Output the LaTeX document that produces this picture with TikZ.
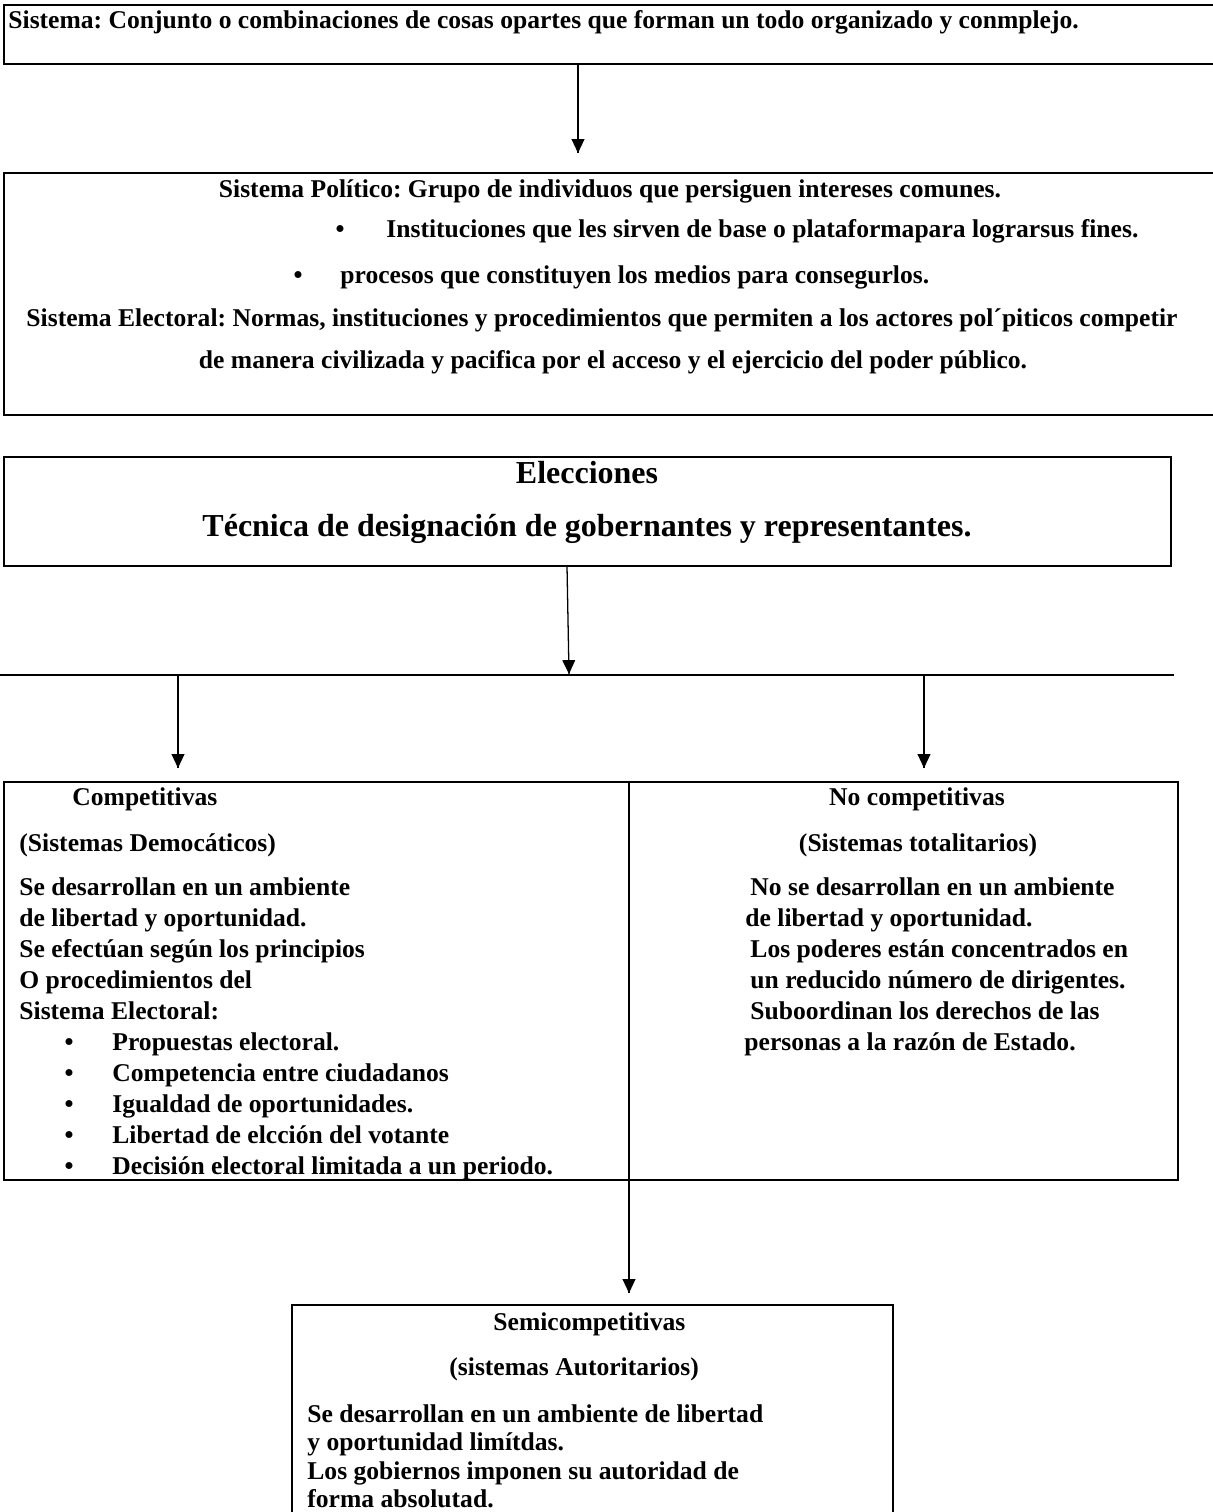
\documentclass[tikz,border=0pt]{standalone}
\usepackage{fontspec}
\setmainfont{Liberation Serif}
\frenchspacing
\usetikzlibrary{arrows.meta}
\usetikzlibrary{decorations.markings}
\usetikzlibrary{calc}
\usetikzlibrary{fit}
\tikzset{flecha/.style = {line width=0.6pt,
                          decoration={markings,
                                      mark=at position 1 with {\arrow{Triangle[length=6.5pt, width=6pt]}}},
                          postaction={decorate}}}
\tikzset{caja/.style = {draw, line width=1.25pt, inner sep=0, outer sep=0}}
\tikzset{cajafina/.style = {draw, line width=0.9pt, inner sep=0, outer sep=0}}
\tikzset{txt/.style = {inner sep=0, anchor=base west, font=\bfseries\fontsize{12}{14}\selectfont}}
\tikzset{txtc/.style = {txt, anchor=base}}
\tikzset{grande/.style = {txtc, font=\bfseries\fontsize{15}{18}\selectfont}}

\begin{document}
\begin{tikzpicture}[x=0.469pt, y=-0.469pt]
      \useasboundingbox (0,0) rectangle (1213,1512);
      \fill [white] (0,0) rectangle (1213,1512);

      \node [caja, fit={(4,5) (1240,64)}] (sistema) {};
      \node [txt] (sistemaTxt) at (8,29) {Sistema: Conjunto o combinaciones de cosas opartes que forman un todo organizado y conmplejo.};

      \node [caja, fit={(4,173) (1240,415)}] (politico) {};
      \node [txtc] (politico1) at (610,197) {Sistema Político: Grupo de individuos que persiguen intereses comunes.};
      \node [txtc] (vineta1) at (340,237) {\textbullet};
      \node [txt] (politico2) at (386,237) {Instituciones que les sirven de base o plataformapara lograrsus fines.};
      \node [txtc] (vineta2) at (298,283) {\textbullet};
      \node [txt] (politico3) at (340,283) {procesos que constituyen los medios para consegurlos.};
      \node [txtc] (politico4) at (602,326) {Sistema Electoral: Normas, instituciones y procedimientos que permiten a los actores pol´piticos competir};
      \node [txtc] (politico5) at (613,368) {de manera civilizada y pacifica por el acceso y el ejercicio del poder público.};

      \draw [flecha] (sistema.south -| 578,0) -- ($(politico.north -| 578,0) + (0,-20)$);

      \node [caja, fit={(4,457) (1171,566)}] (elecciones) {};
      \node [grande] (elecciones1) at (587,483) {Elecciones};
      \node [grande] (elecciones2) at (587,536) {Técnica de designación de gobernantes y representantes.};

      \coordinate (ramaIzq) at (0,675);
      \coordinate (ramaDer) at (1174,675);
      \coordinate (cruce) at (569,674);
      \draw [line width=1.1pt] (ramaIzq) -- (ramaDer);
      \draw [flecha] (elecciones.south -| 567,0) -- (cruce);

      \node [cajafina, fit={(4,782) (629,1180)}] (comp) {};
      \node [cajafina, fit={(629,782) (1178,1180)}] (nocomp) {};
      \draw [flecha] (ramaIzq -| 178,0) -- ($(comp.north -| 178,0) + (0,-14)$);
      \draw [flecha] (ramaIzq -| 924,0) -- ($(nocomp.north -| 924,0) + (0,-14)$);

      \node [txt] (comp1) at (72,805) {Competitivas};
      \node [txt] (comp2) at (19,851) {(Sistemas Democáticos)};
      \node [txt] (comp3) at (19,895) {Se desarrollan en un ambiente};
      \node [txt] (comp4) at (19,926) {de libertad y oportunidad.};
      \node [txt] (comp5) at (19,957) {Se efectúan según los principios};
      \node [txt] (comp6) at (19,988) {O procedimientos del};
      \node [txt] (comp7) at (19,1019) {Sistema Electoral:};
      \foreach \yb/\item in {1050/Propuestas electoral.,
                             1081/Competencia entre ciudadanos,
                             1112/Igualdad de oportunidades.,
                             1143/Libertad de elcción del votante,
                             1174/Decisión electoral limitada a un periodo.} {
        \node [txtc] (vin\yb) at (69,\yb) {\textbullet};
        \node [txt] (item\yb) at (112,\yb) {\item};
      }

      \node [txtc] (nocomp1) at (917,805) {No competitivas};
      \node [txtc] (nocomp2) at (918,851) {(Sistemas totalitarios)};
      \node [txt] (nocomp3) at (750,895) {No se desarrollan en un ambiente};
      \node [txt] (nocomp4) at (745,926) {de libertad y oportunidad.};
      \node [txt] (nocomp5) at (750,957) {Los poderes están concentrados en};
      \node [txt] (nocomp6) at (750,988) {un reducido número de dirigentes.};
      \node [txt] (nocomp7) at (750,1019) {Suboordinan los derechos de las};
      \node [txt] (nocomp8) at (744,1050) {personas a la razón de Estado.};

      \node [cajafina, fit={(292,1305) (893,1540)}] (semi) {};
      \draw [flecha] (comp.south east) -- ($(semi.north -| comp.south east) + (0,-12)$);

      \node [txt] (semi1) at (493,1330) {Semicompetitivas};
      \node [txt] (semi2) at (449,1375) {(sistemas Autoritarios)};
      \node [txt] (semi3) at (307,1422) {Se desarrollan en un ambiente de libertad};
      \node [txt] (semi4) at (307,1450) {y oportunidad limítdas.};
      \node [txt] (semi5) at (307,1479) {Los gobiernos imponen su autoridad de};
      \node [txt] (semi6) at (307,1507) {forma absolutad.};

    \end{tikzpicture}
\end{document}
